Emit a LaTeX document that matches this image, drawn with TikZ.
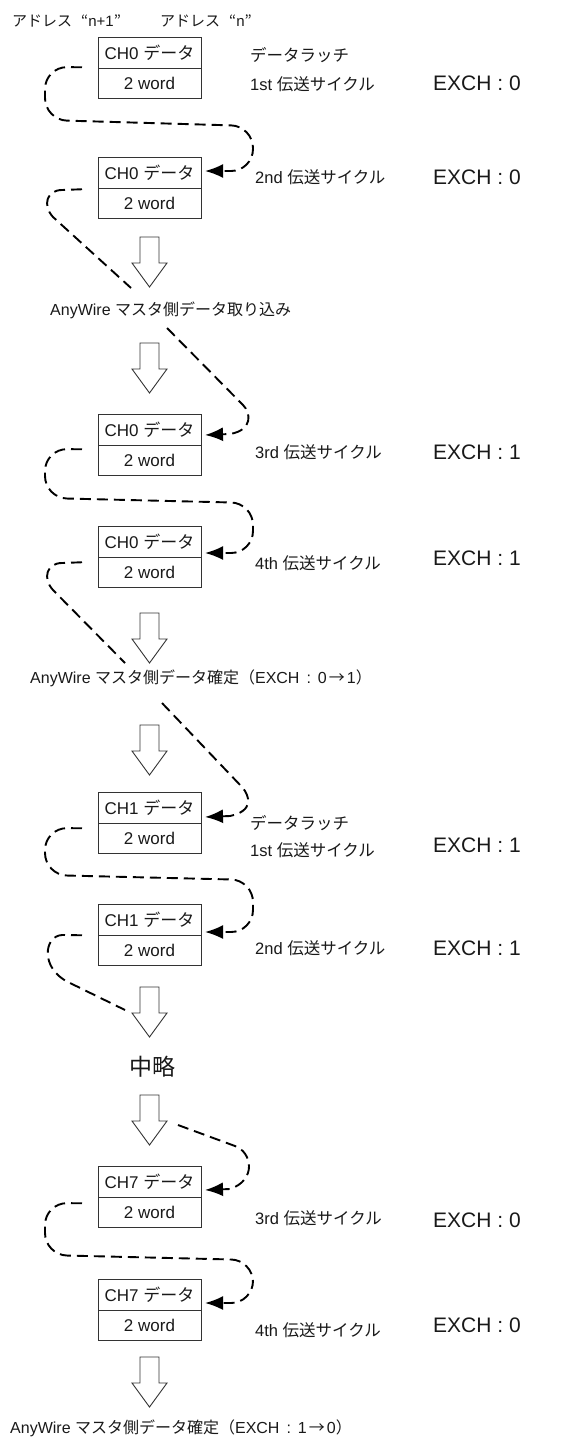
\documentclass[tikz,border=0pt]{standalone}
\usepackage{fontspec}
\setmainfont{Liberation Sans}
\newfontfamily\jp{Noto Sans CJK JP}
\usetikzlibrary{positioning,arrows.meta}

\begin{document}
\begin{tikzpicture}[x=1pt,y=-1pt,
  every node/.style={inner sep=0pt,text=black!90},
  cell/.style={draw=black!80,line width=0.9pt,outer sep=0pt,minimum width=103pt,minimum height=30.5pt,font=\fontsize{17}{20}\selectfont},
  hdr/.style={anchor=west,font=\fontsize{15}{18}\selectfont},
  cyclelbl/.style={anchor=west,font=\fontsize{16.5}{19}\selectfont},
  exch/.style={anchor=west,font=\fontsize{21}{24}\selectfont},
  note/.style={anchor=west,font=\fontsize{16}{19}\selectfont},
  wire/.style={line width=1.9pt,dash pattern=on 11pt off 6pt,-{Latex[length=18pt,width=14pt]}},
  hollow/.style={draw=black!80,line width=0.9pt,fill=white}]
\useasboundingbox (0,0) rectangle (569,1441);

\node[hdr] (adr1) at (12,21) {{\jp アドレス}\hspace{9pt}{\jp “}n+1{\jp ”}};
\node[hdr] (adr2) at (160,21) {{\jp アドレス}\hspace{9pt}{\jp “}n{\jp ”}};

% CH0, 1st/2nd cycle
\node[cell] (b1) at (149.5,53) {CH0 {\jp データ}};
\node[cell,below=0pt of b1] (b1w) {2 word};
\node[cyclelbl] (l1a) at (250,55) {\jp データラッチ};
\node[cyclelbl] (l1b) at (250,84) {1st {\jp 伝送サイクル}};
\node[exch] (e1) at (433,83) {EXCH : 0};

\node[cell] (b2) at (149.5,173) {CH0 {\jp データ}};
\node[cell,below=0pt of b2] (b2w) {2 word};
\node[cyclelbl] (l2) at (255,177) {2nd {\jp 伝送サイクル}};
\node[exch] (e2) at (433,177) {EXCH : 0};

\node[note] (m1) at (50,310) {AnyWire {\jp マスタ側データ取り込み}};

% CH0, 3rd/4th cycle
\node[cell] (b3) at (149.5,430) {CH0 {\jp データ}};
\node[cell,below=0pt of b3] (b3w) {2 word};
\node[cyclelbl] (l3) at (255,452) {3rd {\jp 伝送サイクル}};
\node[exch] (e3) at (433,452) {EXCH : 1};

\node[cell] (b4) at (149.5,542) {CH0 {\jp データ}};
\node[cell,below=0pt of b4] (b4w) {2 word};
\node[cyclelbl] (l4) at (255,563) {4th {\jp 伝送サイクル}};
\node[exch] (e4) at (433,558) {EXCH : 1};

\node[note] (m2) at (30,678) {AnyWire {\jp マスタ側データ確定（}EXCH\hspace{7pt}:\hspace{7pt}0\hspace{2pt}{\jp →}\hspace{2pt}1{\jp ）}};

% CH1
\node[cell] (b5) at (149.5,808) {CH1 {\jp データ}};
\node[cell,below=0pt of b5] (b5w) {2 word};
\node[cyclelbl] (l5a) at (250,823) {\jp データラッチ};
\node[cyclelbl] (l5b) at (250,850) {1st {\jp 伝送サイクル}};
\node[exch] (e5) at (433,845) {EXCH : 1};

\node[cell] (b6) at (149.5,920) {CH1 {\jp データ}};
\node[cell,below=0pt of b6] (b6w) {2 word};
\node[cyclelbl] (l6) at (255,948) {2nd {\jp 伝送サイクル}};
\node[exch] (e6) at (433,948) {EXCH : 1};

\node[font=\fontsize{23}{26}\selectfont] (mid) at (152.5,1067) {\jp 中略};

% CH7
\node[cell] (b7) at (149.5,1182) {CH7 {\jp データ}};
\node[cell,below=0pt of b7] (b7w) {2 word};
\node[cyclelbl] (l7) at (255,1218) {3rd {\jp 伝送サイクル}};
\node[exch] (e7) at (433,1220) {EXCH : 0};

\node[cell] (b8) at (149.5,1295) {CH7 {\jp データ}};
\node[cell,below=0pt of b8] (b8w) {2 word};
\node[cyclelbl] (l8) at (255,1330) {4th {\jp 伝送サイクル}};
\node[exch] (e8) at (433,1325) {EXCH : 0};

\node[note] (m3) at (10,1428) {AnyWire {\jp マスタ側データ確定（}EXCH\hspace{7pt}:\hspace{7pt}1\hspace{2pt}{\jp →}\hspace{2pt}0{\jp ）}};

\foreach \t in {237,343,613,725,987,1095,1357}
  \draw[hollow] (140,\t) -- (159,\t) -- (159,\t+26) -- (167,\t+26) -- (149.5,\t+50)
    -- (132,\t+26) -- (140,\t+26) -- cycle;

\coordinate (f1) at (131,288);
\coordinate (f2) at (125,663);
\coordinate (f3) at (125,1010);
\coordinate (f4) at (178,1125);

\draw[wire,rounded corners=22pt] ([shift={(-16,-1)}]b1.south west) -- (45,67) -- (45,120)
  -- (253,126) -- (253,171) -- ([shift={(4,-2)}]b2.east);
\draw[wire,-] ([shift={(-16,1)}]b2.south west) -- (62,190) .. controls (47,190) and (42,205) .. (53,217) -- (f1);
\draw[wire] ([shift={(117,18)}]m1.west) -- (243,405) .. controls (251,413) and (253,430) .. (230,434)
  -- ([shift={(4,5)}]b3.east);
\draw[wire,rounded corners=22pt] ([shift={(-16,4)}]b3.south west) -- (45,449) -- (45,498)
  -- (253,503) -- (253,553) -- ([shift={(4,11)}]b4.east);
\draw[wire,-] ([shift={(-16,5)}]b4.south west) -- (62,563) .. controls (47,563) and (42,578) .. (53,590) -- (f2);
\draw[wire] ([shift={(132,25)}]m2.west) -- (242,787) .. controls (250,796) and (254,811) .. (230,816)
  -- ([shift={(4,9)}]b5.east);
\draw[wire,rounded corners=22pt] ([shift={(-16,5)}]b5.south west) -- (45,828) -- (45,875)
  -- (253,880) -- (253,932) -- ([shift={(4,12)}]b6.east);
\draw[wire,-] ([shift={(-16,0)}]b6.south west) -- (62,935) .. controls (44,936) and (40,968) .. (68,982) -- (f3);
\draw[wire] (f4) -- (235,1146) .. controls (252,1152) and (257,1180) .. (230,1189)
  -- ([shift={(4,8)}]b7.east);
\draw[wire,rounded corners=22pt] ([shift={(-16,6)}]b7.south west) -- (45,1203) -- (45,1255)
  -- (253,1260) -- (253,1303) -- ([shift={(4,8)}]b8.east);

\end{tikzpicture}
\end{document}
